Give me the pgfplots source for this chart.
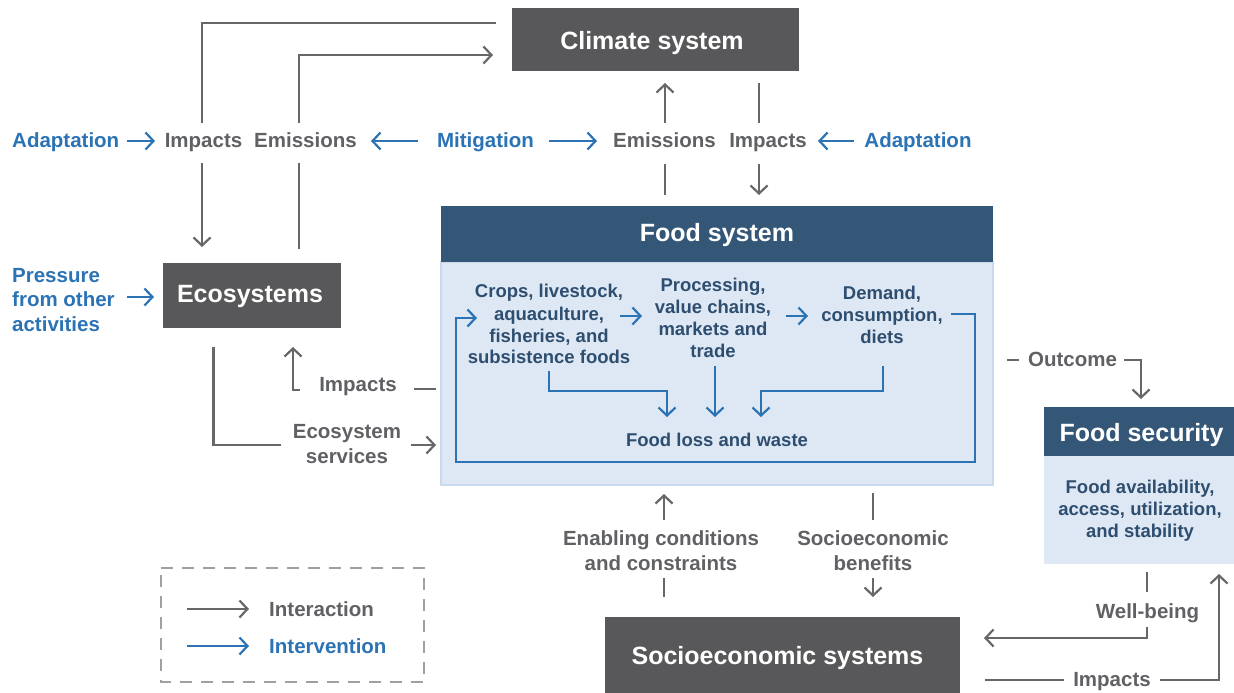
\documentclass[border=0pt]{standalone}
\usepackage{pgfplots}
\pgfplotsset{compat=1.18}
\usetikzlibrary{arrows.meta}
\usepackage{fontspec}
\setmainfont{Liberation Sans}
\definecolor{darkbox}{HTML}{58585A}
\definecolor{navy}{HTML}{345677}
\definecolor{lightb}{HTML}{DEE8F5}
\definecolor{lightbd}{HTML}{C9DAEE}
\definecolor{lineg}{HTML}{676769}
\definecolor{txtg}{HTML}{606164}
\definecolor{ipcc}{HTML}{2B73B5}
\definecolor{navytxt}{HTML}{2E4E70}
\definecolor{dashg}{HTML}{A0A0A0}
\tikzset{
  gl/.style={draw=lineg, line width=2.2pt},
  bl/.style={draw=ipcc, line width=2.2pt},
  tip/.style={-{Straight Barb[length=8pt,width=17pt]}},
  lab/.style={font=\fontsize{20.5}{24.5}\selectfont\bfseries, text=txtg, inner sep=0pt, anchor=base},
  blab/.style={lab, text=ipcc},
  hdr/.style={font=\fontsize{25}{30}\selectfont\bfseries, text=white, inner sep=0pt, anchor=base},
  inn/.style={font=\fontsize{18.5}{22}\selectfont\bfseries, text=navytxt, inner sep=0pt, anchor=base},
}
\begin{document}
\begin{tikzpicture}
\begin{axis}[
  width=1234pt, height=693pt, scale only axis,
  xmin=0, xmax=1234, ymin=0, ymax=693, y dir=reverse,
  hide axis, clip=false, no markers,
]
% frame for the bounding box
\path (axis cs:0,0) rectangle (axis cs:1234,693);
% ---------- boxes ----------
\addplot[fill=darkbox, draw=none] coordinates {(512,8)(799,8)(799,71)(512,71)} -- cycle;
\addplot[fill=darkbox, draw=none] coordinates {(162.5,263)(341,263)(341,328)(162.5,328)} -- cycle;
\addplot[fill=lightb, draw=lightbd, line width=1.5pt] coordinates {(441,262)(993,262)(993,485)(441,485)} -- cycle;
\addplot[fill=navy, draw=none] coordinates {(441,206)(993,206)(993,262)(441,262)} -- cycle;
\addplot[fill=lightb, draw=none] coordinates {(1044,456)(1234,456)(1234,564)(1044,564)} -- cycle;
\addplot[fill=navy, draw=none] coordinates {(1044,407)(1234,407)(1234,456)(1044,456)} -- cycle;
\addplot[fill=darkbox, draw=none] coordinates {(605,617)(960,617)(960,693)(605,693)} -- cycle;
\addplot[draw=dashg, line width=2pt, dash pattern=on 12pt off 9pt] coordinates {(161,568)(424,568)(424,682)(161,682)} -- cycle;

% ---------- headers ----------
\node[hdr] at (axis cs:652,49) {Climate system};
\node[hdr] at (axis cs:250,302) {Ecosystems};
\node[hdr] at (axis cs:717,241) {Food system};
\node[hdr] at (axis cs:1141.5,441) {Food security};
\node[hdr] at (axis cs:777.5,664) {Socioeconomic systems};

% ---------- top row ----------
\addplot[gl] coordinates {(496,23)(202,23)(202,123)};
\addplot[gl, tip] coordinates {(299,123)(299,55)(493,55)};
\node[blab, anchor=base west] at (axis cs:12,147) {Adaptation};
\addplot[bl, tip] coordinates {(127,141)(155,141)};
\node[lab] at (axis cs:203.5,147) {Impacts};
\node[lab] at (axis cs:305.5,147) {Emissions};
\addplot[bl, tip] coordinates {(418,141)(371,141)};
\node[blab] at (axis cs:485.5,147) {Mitigation};
\addplot[bl, tip] coordinates {(549,141)(597,141)};
\node[lab] at (axis cs:664.5,147) {Emissions};
\node[lab] at (axis cs:768,147) {Impacts};
\addplot[bl, tip] coordinates {(854,141)(818,141)};
\node[blab] at (axis cs:918,147) {Adaptation};
\addplot[gl, tip] coordinates {(665,123)(665,83)};
\addplot[gl] coordinates {(759,83)(759,123)};
\addplot[gl, tip] coordinates {(202,163)(202,247)};
\addplot[gl] coordinates {(299,249)(299,163)};
\addplot[gl] coordinates {(665,195)(665,164)};
\addplot[gl, tip] coordinates {(759,164)(759,195)};

% ---------- pressure ----------
\node[blab, anchor=base west] at (axis cs:12,282) {Pressure};
\node[blab, anchor=base west] at (axis cs:12,306) {from other};
\node[blab, anchor=base west] at (axis cs:12,331) {activities};
\addplot[bl, tip] coordinates {(127,297)(154,297)};

% ---------- food system inside ----------
\node[inn] at (axis cs:549,297) {Crops, livestock,};
\node[inn] at (axis cs:549,320) {aquaculture,};
\node[inn] at (axis cs:549,342) {fisheries, and};
\node[inn] at (axis cs:549,363) {subsistence foods};
\node[inn] at (axis cs:713,291) {Processing,};
\node[inn] at (axis cs:713,313) {value chains,};
\node[inn] at (axis cs:713,335) {markets and};
\node[inn] at (axis cs:713,357) {trade};
\node[inn] at (axis cs:882,299) {Demand,};
\node[inn] at (axis cs:882,321) {consumption,};
\node[inn] at (axis cs:882,343) {diets};
\node[inn] at (axis cs:717,446) {Food loss and waste};
\addplot[bl, tip] coordinates {(620,316)(642,316)};
\addplot[bl, tip] coordinates {(786,316)(808,316)};
\addplot[bl, tip] coordinates {(951,314)(975,314)(975,462)(456,462)(456,318)(477,318)};
\addplot[bl, tip] coordinates {(549,371)(549,391)(667,391)(667,417)};
\addplot[bl, tip] coordinates {(715,366)(715,417)};
\addplot[bl, tip] coordinates {(883,366)(883,391)(761,391)(761,417)};

% ---------- left middle ----------
\addplot[gl] coordinates {(213.5,347)(213.5,445)(281,445)};
\node[lab] at (axis cs:347,438) {Ecosystem};
\node[lab] at (axis cs:347,463) {services};
\addplot[gl, tip] coordinates {(411,445)(436,445)};
\addplot[gl, tip] coordinates {(300,390)(293,390)(293,347)};
\node[lab] at (axis cs:358,391) {Impacts};
\addplot[gl] coordinates {(436,389)(414,389)};

% ---------- legend ----------
\addplot[gl, tip] coordinates {(187,609)(249,609)};
\node[lab, anchor=base west] at (axis cs:269,616) {Interaction};
\addplot[bl, tip] coordinates {(187,646)(249,646)};
\node[blab, anchor=base west] at (axis cs:269,653) {Intervention};

% ---------- bottom middle ----------
\addplot[gl, tip] coordinates {(664,520)(664,494)};
\node[lab] at (axis cs:661,545) {Enabling conditions};
\node[lab] at (axis cs:661,570) {and constraints};
\addplot[gl] coordinates {(664,578)(664,597)};
\addplot[gl] coordinates {(873,493)(873,520)};
\node[lab] at (axis cs:873,545) {Socioeconomic};
\node[lab] at (axis cs:873,570) {benefits};
\addplot[gl, tip] coordinates {(873,578)(873,597)};

% ---------- right ----------
\addplot[gl] coordinates {(1007,360)(1019,360)};
\node[lab] at (axis cs:1072.5,366) {Outcome};
\addplot[gl, tip] coordinates {(1124,360)(1141,360)(1141,399)};
\node[inn] at (axis cs:1140,493) {Food availability,};
\node[inn] at (axis cs:1140,515) {access, utilization,};
\node[inn] at (axis cs:1140,537) {and stability};
\addplot[gl] coordinates {(1147,572)(1147,592)};
\node[lab] at (axis cs:1147.5,618) {Well-being};
\addplot[gl, tip] coordinates {(1147,627)(1147,638)(984,638)};
\addplot[gl] coordinates {(985,680)(1064,680)};
\node[lab] at (axis cs:1112,686) {Impacts};
\addplot[gl, tip] coordinates {(1160,680)(1219,680)(1219,574)};
\end{axis}
\end{tikzpicture}
\end{document}
